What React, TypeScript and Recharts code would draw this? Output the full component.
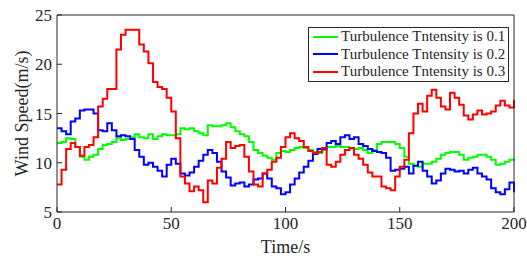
import React from 'react';
import { LineChart, Line, XAxis, YAxis, Legend } from 'recharts';

// sample times, one every 2 s
const times: number[] = [];
for (let t = 0; t <= 200; t += 2) times.push(t);

const green = [
  12.0, 12.1, 12.5, 12.4, 11.6, 10.6, 10.3, 10.6, 10.8, 11.4,
  11.8, 11.9, 12.1, 12.5, 12.3, 12.4, 12.6, 12.9, 12.6, 12.5,
  12.9, 12.4, 12.7, 12.9, 12.8, 12.8, 12.9, 13.5, 13.4, 13.5,
  13.2, 13.0, 12.8, 13.8, 13.7, 13.7, 13.8, 14.0, 13.6, 13.2,
  12.9, 12.7, 12.1, 11.3, 11.0, 10.7, 10.5, 10.3, 11.0, 11.2,
  11.1, 11.3, 11.5, 11.6, 11.5, 11.3, 11.1, 11.0, 11.3, 11.6,
  11.6, 11.7, 11.6, 11.6, 11.5, 11.4, 11.5, 11.3, 11.0, 11.3,
  11.9, 12.1, 12.1, 12.1, 11.9, 11.5, 10.6, 9.9, 9.7, 9.6,
  9.9, 9.9, 10.1, 10.4, 10.8, 11.0, 11.1, 11.1, 10.8, 10.3,
  10.5, 10.6, 10.8, 10.8, 10.6, 10.3, 9.8, 9.9, 10.1, 10.3,
  10.4,
];

const blue = [
  13.5, 13.2, 12.9, 14.2, 14.5, 15.3, 15.4, 15.4, 15.0, 13.3,
  13.2, 14.0, 13.3, 12.7, 12.8, 12.7, 12.4, 11.3, 10.6, 9.8,
  10.0, 9.6, 9.2, 8.6, 9.8, 10.4, 9.9, 8.9, 8.7, 9.0,
  9.6, 10.2, 10.8, 11.3, 11.0, 10.1, 9.1, 8.5, 7.7, 7.9,
  8.0, 7.6, 7.8, 8.3, 8.4, 8.9, 8.4, 7.6, 7.4, 6.8,
  7.0, 7.8, 8.4, 9.0, 9.6, 10.2, 10.9, 11.4, 11.4, 12.0,
  12.2, 11.9, 12.6, 12.8, 12.4, 12.6, 11.9, 11.7, 11.4, 11.2,
  11.1, 11.0, 10.5, 9.2, 9.3, 9.4, 9.6, 8.9, 9.7, 10.1,
  9.2, 8.6, 7.9, 8.2, 8.9, 9.4, 9.3, 9.1, 9.2, 8.9,
  9.3, 9.5, 8.9, 8.6, 8.3, 7.4, 7.0, 6.8, 7.3, 8.0,
  7.0,
];

const red = [
  7.8, 9.3, 11.4, 12.0, 11.6, 10.7, 11.6, 11.8, 12.6, 15.7,
  16.5, 17.5, 17.5, 21.5, 23.0, 23.5, 23.5, 23.5, 22.0, 21.3,
  20.1, 18.2, 17.7, 17.5, 16.6, 15.2, 12.5, 8.6, 7.9, 7.1,
  7.6, 7.2, 6.0, 8.2, 7.9, 9.5, 10.4, 12.1, 11.5, 11.7,
  11.8, 10.6, 9.1, 7.8, 7.6, 8.9, 9.3, 10.1, 10.5, 11.6,
  12.6, 13.0, 12.5, 12.2, 11.6, 11.2, 11.0, 11.1, 11.5, 9.8,
  9.6, 10.1, 10.8, 11.3, 11.5, 10.8, 10.4, 9.8, 9.0, 8.6,
  8.6, 7.6, 7.4, 7.2, 8.6, 9.6, 10.3, 13.0, 15.0, 16.0,
  15.2, 16.8, 17.4, 16.6, 15.7, 15.4, 17.1, 16.6, 15.9, 14.8,
  14.4, 14.9, 15.3, 14.9, 15.0, 15.2, 15.8, 16.3, 15.8, 15.6,
  16.4,
];

const xTicks = [0, 50, 100, 150, 200];
const yTicks = [5, 10, 15, 20, 25];

const seriesNames = [
  'Turbulence Tntensity is 0.1',
  'Turbulence Tntensity is 0.2',
  'Turbulence Tntensity is 0.3',
];

const data = times.map((t, i) => ({ t, g: green[i], b: blue[i], r: red[i] }));

const font = '"Liberation Serif", "Times New Roman", serif';
const ink = '#262626';

const renderLegend = (props: any) => (
  <div
    style={{
      border: `1px solid ${ink}`,
      background: '#fff',
      padding: '0 3px 0 4px',
      fontFamily: font,
      fontSize: 15,
      color: ink,
      width: 'fit-content',
    }}
  >
    {(props.payload || []).map((entry: any) => (
      <div key={entry.value} style={{ display: 'flex', alignItems: 'center', height: 17.5 }}>
        <svg width={25} height={4} style={{ marginRight: 3 }}>
          <line x1={0} x2={25} y1={2} y2={2} stroke={entry.color} strokeWidth={2} />
        </svg>
        <span style={{ whiteSpace: 'nowrap' }}>{entry.value}</span>
      </div>
    ))}
  </div>
);

export default function App() {
  return (
    <div style={{ position: 'absolute', left: 0, top: 0, width: 527, height: 256, background: '#fff' }}>
      <LineChart width={527} height={256} data={data} margin={{ top: 14, right: 12, bottom: 0, left: 0 }}>
        <XAxis
          dataKey="t"
          type="number"
          domain={[0, 200]}
          ticks={xTicks}
          height={44}
          tickSize={-5}
          tickMargin={10}
          stroke={ink}
          tick={{ fill: ink, fontSize: 17, fontFamily: font }}
          label={{ value: 'Time/s', position: 'insideBottom', offset: 3, fill: ink, fontSize: 18, fontFamily: font }}
        />
        <XAxis
          xAxisId="top"
          orientation="top"
          dataKey="t"
          type="number"
          domain={[0, 200]}
          ticks={xTicks}
          height={1}
          tickSize={-5}
          stroke={ink}
          tick={false}
        />
        <YAxis
          type="number"
          domain={[5, 25]}
          ticks={yTicks}
          width={57}
          tickSize={-5}
          tickMargin={10}
          stroke={ink}
          tick={{ fill: ink, fontSize: 17, fontFamily: font }}
          label={{
            value: 'Wind Speed(m/s)',
            angle: -90,
            position: 'insideLeft',
            offset: 22,
            fill: ink,
            fontSize: 18,
            fontFamily: font,
            style: { textAnchor: 'middle' },
          }}
        />
        <YAxis
          yAxisId="right"
          orientation="right"
          type="number"
          domain={[5, 25]}
          ticks={yTicks}
          width={1}
          tickSize={-5}
          stroke={ink}
          tick={false}
        />
        <Legend
          layout="vertical"
          align="center"
          verticalAlign="middle"
          content={renderLegend}
          wrapperStyle={{ top: 27, left: 308, width: 'auto' }}
        />
        <Line type="stepAfter" dataKey="g" name={seriesNames[0]} stroke="#00ff00" strokeWidth={2} dot={false} isAnimationActive={false} />
        <Line type="stepAfter" dataKey="b" name={seriesNames[1]} stroke="#0000ff" strokeWidth={2} dot={false} isAnimationActive={false} />
        <Line type="stepAfter" dataKey="r" name={seriesNames[2]} stroke="#ff0000" strokeWidth={2} dot={false} isAnimationActive={false} />
      </LineChart>
    </div>
  );
}
